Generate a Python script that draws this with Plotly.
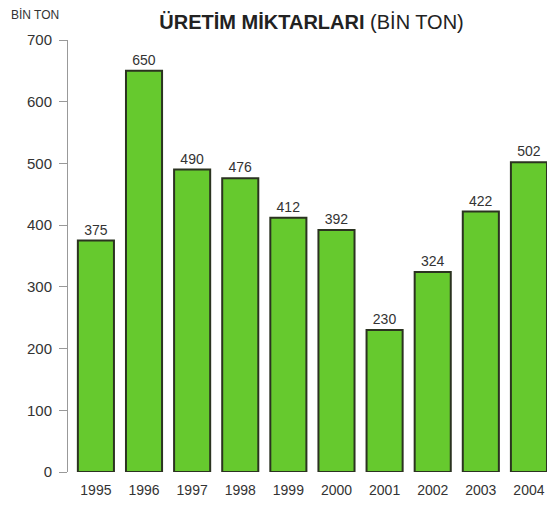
import plotly.graph_objects as go

years = ["1995", "1996", "1997", "1998", "1999", "2000", "2001", "2002", "2003", "2004"]
production = [375, 650, 490, 476, 412, 392, 230, 324, 422, 502]
y_ticks = [0, 100, 200, 300, 400, 500, 600, 700]

fig = go.Figure()

fig.add_trace(go.Bar(
    x=years,
    y=production,
    width=0.75,
    marker=dict(color="#66c92e", line=dict(color="#2b3320", width=2)),
    text=[str(v) for v in production],
    textposition="outside",
    textfont=dict(size=14, color="#333333"),
    cliponaxis=False,
))

# the page body adds an 8px margin, so the figure is sized to fill the rest
fig.update_layout(
    width=547,
    height=498,
    margin=dict(l=60, r=2, t=32, b=34),
    plot_bgcolor="white",
    paper_bgcolor="white",
    font=dict(family="Liberation Sans, Arial, sans-serif", color="#333333", size=14),
    showlegend=False,
    title=dict(
        text="<b>ÜRETİM MİKTARLARI</b> (BİN TON)",
        x=0.555, xanchor="center", y=0.971, yanchor="middle",
        font=dict(size=20, color="#222222"),
    ),
    annotations=[dict(
        text="BİN TON", xref="paper", yref="paper", x=-0.122, y=1.058,
        xanchor="left", yanchor="middle", showarrow=False,
        font=dict(size=12, color="#333333"),
    )],
)

fig.update_xaxes(
    range=[-0.58, 9.5], showline=False, showgrid=False, ticks="",
    tickfont=dict(size=14), ticklabelstandoff=8,
)
fig.update_yaxes(
    range=[0, 700], tickvals=y_ticks, showgrid=False, zeroline=False,
    showline=True, linecolor="#999999", linewidth=1,
    ticks="outside", ticklen=8, tickcolor="#999999", tickfont=dict(size=15),
    ticklabelstandoff=4,
)

fig.write_html("out.html")
